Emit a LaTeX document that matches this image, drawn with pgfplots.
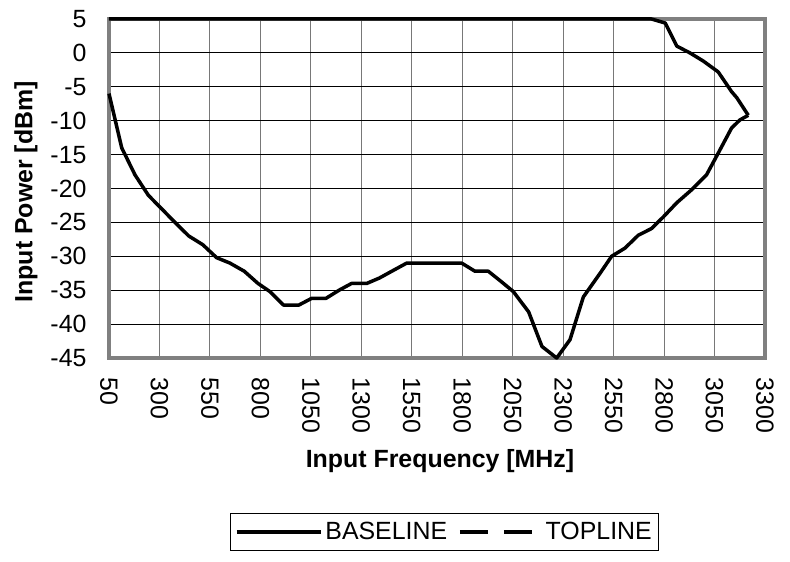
\documentclass[border=0pt]{standalone}
\usepackage{fontspec}
\setmainfont{Liberation Sans}
\usepackage{pgfplots}
\pgfplotsset{compat=1.18}
\definecolor{framegray}{RGB}{128,128,128}
\definecolor{gridgray}{RGB}{120,120,120}
\begin{document}
\begin{tikzpicture}
\useasboundingbox (-109bp,-204bp) rectangle (681bp,358bp);
\begin{axis}[
    scale only axis,
    width=656bp, height=339bp,
    xmin=50, xmax=3300, ymin=-45, ymax=5,
    xtick={50,300,...,3300},
    ytick={-45,-40,...,5},
    grid=major,
    x grid style={gridgray, line width=1bp},
    y grid style={black, line width=1bp},
    axis line style={framegray, line width=3.5bp},
    major tick length=0pt,
    /pgf/number format/assume math mode=true,
    /pgf/number format/1000 sep={},
    tick label style={font=\fontsize{25}{25}\selectfont},
    x tick label style={rotate=-90, anchor=west, xshift=16bp},
    y tick label style={anchor=east, xshift=-19bp},
    xlabel={\textbf{Input Frequency [MHz]}},
    ylabel={\textbf{Input Power [dBm]}},
    label style={font=\fontsize{25}{25}\selectfont},
    xlabel style={at={(axis description cs:0.5046,-0.303)}, anchor=center},
    ylabel style={at={(axis description cs:-0.1265,0.49)}, anchor=center},
    clip=false,
    legend columns=2,
    legend style={at={(0.512,-0.513)}, anchor=center, draw=black, line width=1bp,
        font=\fontsize{25}{25}\selectfont, inner xsep=4bp, inner ysep=3bp,
        nodes={inner xsep=3bp, inner ysep=6bp},
        /tikz/every even column/.append style={column sep=8bp}},
]
\addplot[black, line width=3.5bp, line join=round,
    legend image code/.code={\draw[line width=3.5bp] (0bp,0bp) -- (84bp,0bp);}]
coordinates {
(50,-6) (113,-14) (179,-18) (245,-21) (311,-23) (377,-25) (445,-27)
(515,-28.3) (583,-30.2) (649,-31) (720,-32.2) (788,-34) (847,-35.2)
(915,-37.2) (990,-37.2) (1054,-36.2) (1125,-36.2) (1190,-35) (1252,-34)
(1327,-34) (1390,-33.2) (1445,-32.3) (1525,-31) (1797,-31) (1863,-32.2)
(1929,-32.2) (1992,-33.7) (2053,-35.2) (2129,-38.2) (2195,-43.3) (2268,-45)
(2334,-42.3) (2400,-36) (2483,-32.5) (2540,-30) (2606,-28.8) (2672,-26.9)
(2738,-25.9) (2796,-24.2) (2863,-22.1) (2936,-20.2) (3010,-18) (3068,-14.8)
(3134,-11.1) (3175,-9.9) (3217,-9.2)
};
\addlegendentry{BASELINE}
\addplot[black, line width=3.5bp, line join=round,
    legend image code/.code={\draw[line width=3.5bp, dash pattern=on 28bp off 16bp] (0bp,0bp) -- (72bp,0bp);
        \path (81bp,0bp);}]
coordinates {
(50,5) (2738,5) (2806,4.4) (2863,1) (2928,0) (2994,-1.2) (3068,-2.8)
(3100,-4.2) (3134,-5.7) (3160,-6.6) (3217,-9.2)
};
\addlegendentry{TOPLINE\hspace{8bp}}
\end{axis}
\end{tikzpicture}
\end{document}
